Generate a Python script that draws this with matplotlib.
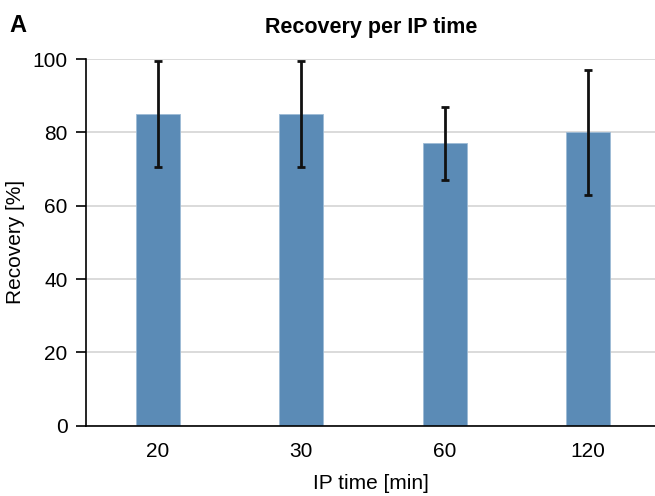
import matplotlib
matplotlib.use("Agg")
import matplotlib.pyplot as plt
import numpy as np

categories = ["20", "30", "60", "120"]
recovery = [85, 85, 77, 80]
errors = [14.5, 14.5, 10, 17]
yticks = [0, 20, 40, 60, 80, 100]

plt.rcParams['font.family'] = ['Liberation Sans', 'DejaVu Sans']

W, H = 655, 496
fig = plt.figure(figsize=(W/100, H/100), dpi=100)
left, right = 86, 660
bottom, top = 425.7, 59
ax = fig.add_axes([left/W, (H-bottom)/H, (right-left)/W, (bottom-top)/H])

x = np.arange(len(categories))
ax.bar(x, recovery, width=0.31, color='#5B8BB6', edgecolor='#9DBBD6', linewidth=0.6, zorder=2)
ax.errorbar(x, recovery, yerr=errors, fmt='none', ecolor='#111111', elinewidth=2,
            capsize=3.2, capthick=2, zorder=3)

ax.set_xlim(-0.5, 3.5)
ax.set_ylim(0, 100)
ax.set_yticks(yticks)
ax.set_xticks(x)
ax.set_xticklabels(categories)
ax.yaxis.grid(True, color='#d4d4d4', linewidth=1.2, zorder=0)
ax.set_axisbelow(True)
for s in ['top', 'right']:
    ax.spines[s].set_visible(False)
ax.spines['left'].set_linewidth(1.2)
ax.spines['bottom'].set_linewidth(1.2)
ax.tick_params(axis='y', length=7.2, width=1.2, labelsize=15, pad=6)
ax.tick_params(axis='x', length=0, labelsize=15, pad=12)
ax.set_ylabel('Recovery [%]', fontsize=15)
ax.set_xlabel('IP time [min]', fontsize=15)
ax.yaxis.set_label_coords(-0.122, 0.5)
ax.xaxis.set_label_coords(0.496, -0.158)
ax.xaxis.label.set_va('center')
ax.yaxis.label.set_va('center')

fig.text(371/W, 1 - 27/H, 'Recovery per IP time', ha='center', va='center',
         fontsize=15.5, fontweight='bold')
fig.text(9/W, 1 - 26/H, 'A', ha='left', va='center', fontsize=17, fontweight='bold')

fig.savefig('out.png', dpi=100)
